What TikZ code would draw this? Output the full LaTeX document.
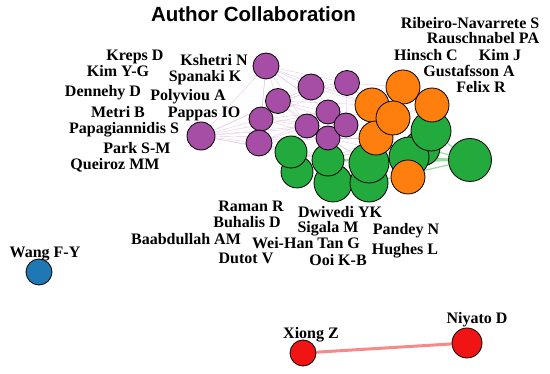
\documentclass[tikz,border=0pt]{standalone}
\usepackage{fontspec}
\setmainfont{Liberation Serif}
\newfontfamily\titlefont{Liberation Sans}
\usetikzlibrary{backgrounds}
\definecolor{clpurple}{RGB}{166,77,166}
\definecolor{clorange}{RGB}{255,127,14}
\definecolor{clgreen}{RGB}{34,170,60}
\definecolor{clblue}{RGB}{31,119,180}
\definecolor{clred}{RGB}{240,20,20}

\begin{document}
\begin{tikzpicture}[x=1pt, y=-1pt,
	author/.style={circle, draw=black, line width=0.8pt, inner sep=0pt, minimum size=#1},
	pauthor/.style={author=#1, fill=clpurple},
	oauthor/.style={author=#1, fill=clorange},
	gauthor/.style={author=#1, fill=clgreen},
	bauthor/.style={author=#1, fill=clblue},
	rauthor/.style={author=#1, fill=clred},
	aname/.style={font=\fontsize{16}{18}\selectfont\bfseries, inner sep=0pt, text height=10.6pt, text depth=0pt},
	pedge/.style={draw=clpurple!30, line width=0.4pt},
	gedge/.style={draw=black!18, line width=0.4pt},
	gredge/.style={draw=clgreen!45, line width=1.2pt},
	redge/.style={draw=clred!50, line width=3pt}
]
	\useasboundingbox (0,0) rectangle (550,374);

	\node[font=\titlefont\fontsize{20.5}{22}\selectfont\bfseries, inner sep=0pt, text height=14.7pt, text depth=0pt] (title) at (253.5,14.5) {Author Collaboration};

	\node[aname] (kreps) at (135,55) {Kreps D};
	\node[aname] (kimyg) at (118,71) {Kim Y-G};
	\node[aname] (kshetri) at (214,60) {Kshetri N};
	\node[aname] (spanaki) at (205,76) {Spanaki K};
	\node[aname] (dennehy) at (103,91) {Dennehy D};
	\node[aname] (polyviou) at (188,95) {Polyviou A};
	\node[aname] (metri) at (118,112) {Metri B};
	\node[aname] (pappas) at (204,112) {Pappas IO};
	\node[aname] (papagiannidis) at (124,128) {Papagiannidis S};
	\node[aname] (park) at (137,148) {Park S-M};
	\node[aname] (queiroz) at (115,164) {Queiroz MM};
	\node[aname] (ribeiro) at (470,23) {Ribeiro-Navarrete S};
	\node[aname] (rauschnabel) at (483,38) {Rauschnabel PA};
	\node[aname] (hinsch) at (426,55) {Hinsch C};
	\node[aname] (kimj) at (500,55) {Kim J};
	\node[aname] (gustafsson) at (469,71) {Gustafsson A};
	\node[aname] (felix) at (481,87) {Felix R};
	\node[aname] (raman) at (251,206) {Raman R};
	\node[aname] (buhalis) at (247,222) {Buhalis D};
	\node[aname] (baabdullah) at (186,239) {Baabdullah AM};
	\node[aname] (dutot) at (246,258) {Dutot V};
	\node[aname] (dwivedi) at (340,212) {Dwivedi YK};
	\node[aname] (sigala) at (328,227) {Sigala M};
	\node[aname] (weihan) at (306,243) {Wei-Han Tan G};
	\node[aname] (pandey) at (406,229) {Pandey N};
	\node[aname] (hughes) at (405,249) {Hughes L};
	\node[aname] (ooi) at (338,260) {Ooi K-B};
	\node[aname] (wang) at (45,252) {Wang F-Y};
	\node[aname] (xiong) at (311,333) {Xiong Z};
	\node[aname] (niyato) at (477,318) {Niyato D};

	\node[gauthor=36] (g10) at (422,148) {};
	\node[gauthor=38] (g4) at (333,183) {};
	\node[gauthor=38] (g6) at (369,183) {};
	\node[gauthor=32] (g2) at (297,172) {};
	\node[gauthor=32] (g1) at (291,152) {};
	\node[gauthor=32] (g3) at (328,160) {};
	\node[gauthor=40] (g5) at (369,163) {};
	\node[gauthor=40] (g7) at (409,157) {};
	\node[gauthor=40] (g8) at (431,131) {};
	\node[gauthor=43] (g9) at (470,160) {};

	\node[pauthor=26] (p1) at (266,66) {};
	\node[pauthor=28] (p2) at (201,136) {};
	\node[pauthor=25] (p3) at (278,101) {};
	\node[pauthor=24] (p4) at (261,119) {};
	\node[pauthor=26] (p5) at (259,143) {};
	\node[pauthor=26] (p6) at (311,87) {};
	\node[pauthor=25] (p7) at (347,83) {};
	\node[pauthor=24] (p8) at (328,112) {};
	\node[pauthor=24] (p9) at (307,126) {};
	\node[pauthor=24] (p10) at (328,138) {};
	\node[pauthor=24] (p11) at (346,125) {};

	\node[oauthor=34] (o1) at (372,105) {};
	\node[oauthor=34] (o5) at (376,138) {};
	\node[oauthor=34] (o2) at (403,87) {};
	\node[oauthor=34] (o3) at (393,118) {};
	\node[oauthor=34] (o4) at (432,105) {};
	\node[oauthor=34] (o6) at (408,177) {};

	\node[bauthor=26] (b1) at (39,272) {};
	\node[rauthor=26] (r1) at (303,353) {};
	\node[rauthor=30] (r2) at (467,343) {};

	\begin{scope}[on background layer]
		\foreach \a/\b in {p2/p1, p2/p3, p2/p4, p2/p5, p2/p6, p2/p8, p2/p9, p2/p10, p2/p11, p2/g1, p2/g3,
			p1/p3, p1/p4, p1/p5, p1/p6, p1/p7, p1/p8, p1/p9, p1/p11, p1/o1,
			p3/p6, p3/p7, p3/p8, p3/p9, p3/p10, p3/p11, p3/o1,
			p4/p6, p4/p7, p4/p8, p4/p9, p4/p10, p4/p11,
			p5/p8, p5/p9, p5/p10, p5/p11, p5/g1, p5/g3,
			p6/p7, p6/p8, p6/p11, p6/o1, p7/o1, p7/o2, p7/p11, p8/o3, p9/g3, p10/g5, p11/o5, p10/o5}
			\draw[pedge] (\a) -- (\b);
		\foreach \a/\b in {g1/g3, g1/g5, g1/g7, g2/g4, g2/g5, g3/g5, g3/g7, g4/g6, g5/g7, g5/o5, g3/o5,
			o1/o2, o1/o3, o1/g5, o2/o4, o3/o4, o5/g7, p9/g5, p10/g7, g8/g5, g8/g3}
			\draw[gedge] (\a) -- (\b);
		\foreach \a/\b in {g9/g7, g9/g5, g9/g10, g9/g3, g9/g6, g9/g8}
			\draw[gredge] (\a) -- (\b);
		\draw[redge] (r1) -- (r2);
	\end{scope}
\end{tikzpicture}
\end{document}
